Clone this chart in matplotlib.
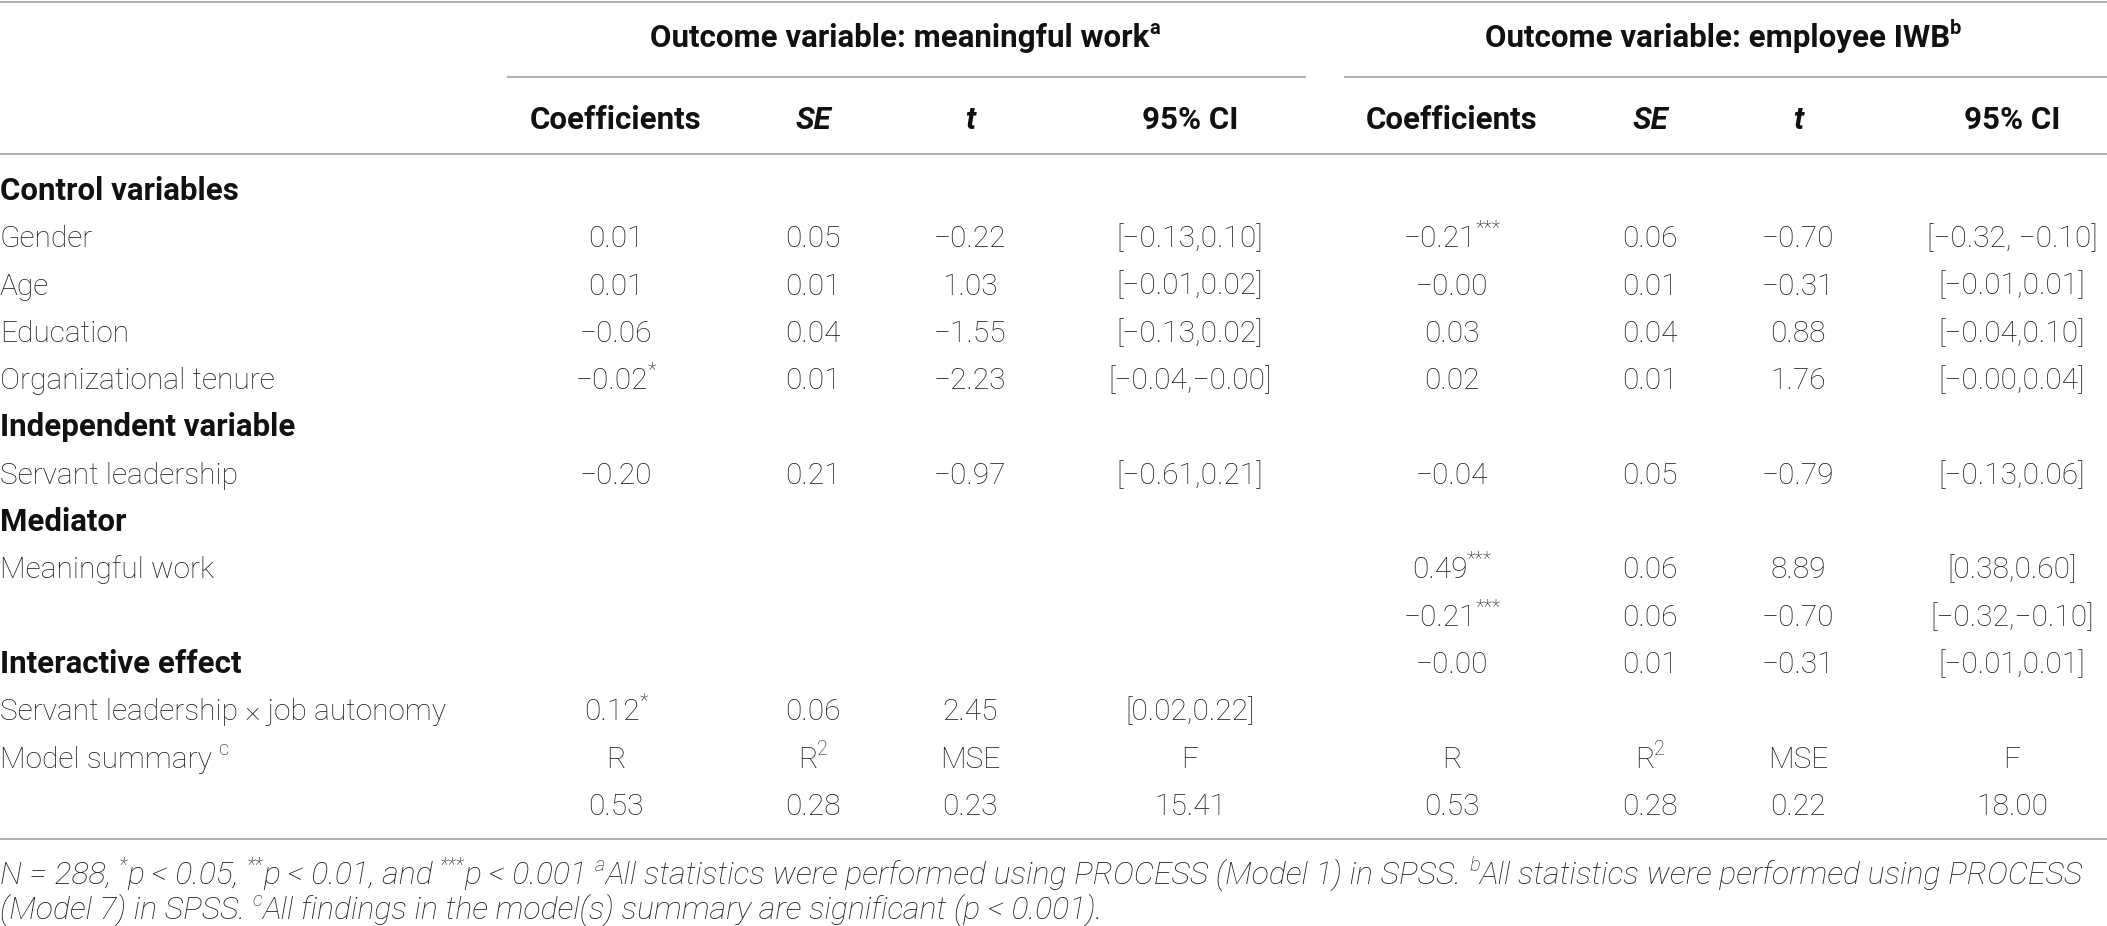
import re
import matplotlib
matplotlib.use("Agg")
import matplotlib.pyplot as plt
from matplotlib.font_manager import FontProperties

# ---------------- data ----------------
row_labels = ["Control variables", "Gender", "Age", "Education", "Organizational tenure",
              "Independent variable", "Servant leadership", "Mediator", "Meaningful work", "",
              "Interactive effect", "Servant leadership × job autonomy", "Model summary ^{c}", ""]
section_rows = ["Control variables", "Independent variable", "Mediator", "Interactive effect"]

group_titles = ["Outcome variable: meaningful work^{a}", "Outcome variable: employee IWB^{b}"]
col_headers = ["Coefficients", "SE", "t", "95% CI"]
italic_headers = ["SE", "t"]

mw_coef = ["", "0.01", "0.01", "−0.06", "−0.02^{*}", "", "−0.20", "", "", "", "", "0.12^{*}", "R", "0.53"]
mw_se = ["", "0.05", "0.01", "0.04", "0.01", "", "0.21", "", "", "", "", "0.06", "R^{2}", "0.28"]
mw_t = ["", "−0.22", "1.03", "−1.55", "−2.23", "", "−0.97", "", "", "", "", "2.45", "MSE", "0.23"]
mw_ci = ["", "[−0.13,0.10]", "[−0.01,0.02]", "[−0.13,0.02]", "[−0.04,−0.00]", "", "[−0.61,0.21]",
         "", "", "", "", "[0.02,0.22]", "F", "15.41"]

iwb_coef = ["", "−0.21^{***}", "−0.00", "0.03", "0.02", "", "−0.04", "", "0.49^{***}", "−0.21^{***}",
            "−0.00", "", "R", "0.53"]
iwb_se = ["", "0.06", "0.01", "0.04", "0.01", "", "0.05", "", "0.06", "0.06", "0.01", "", "R^{2}", "0.28"]
iwb_t = ["", "−0.70", "−0.31", "0.88", "1.76", "", "−0.79", "", "8.89", "−0.70", "−0.31", "", "MSE", "0.22"]
iwb_ci = ["", "[−0.32, −0.10]", "[−0.01,0.01]", "[−0.04,0.10]", "[−0.00,0.04]", "", "[−0.13,0.06]",
          "", "[0.38,0.60]", "[−0.32,−0.10]", "[−0.01,0.01]", "", "F", "18.00"]

footnote_lines = [
    "N = 288, ^{*}p < 0.05, ^{**}p < 0.01, and ^{***}p < 0.001 ^{a}All statistics were performed using "
    "PROCESS (Model 1) in SPSS. ^{b}All statistics were performed using PROCESS",
    "(Model 7) in SPSS. ^{c}All findings in the model(s) summary are significant (p < 0.001).",
]

# ---------------- layout ----------------
W, H = 2107, 926
fig = plt.figure(figsize=(W / 100, H / 100), dpi=100)
ax = fig.add_axes([0, 0, 1, 1])
ax.set_xlim(0, W)
ax.set_ylim(H, 0)
ax.axis("off")
renderer = fig.canvas.get_renderer()

FAM = ["Roboto", "DejaVu Sans"]
SIZE = 21.5
BOLD_SIZE = 22.5
FOOT_SIZE = 23
SUP_SIZE = 14.5
TXT = "#1c1c1c"
BOLD_C = "#111111"
LINE_C = "#a9a9a9"

def fp(weight="light", style="normal", size=SIZE):
    return FontProperties(family=FAM, weight=weight, style=style, size=size)

def parse(s):
    parts = []
    pos = 0
    for m in re.finditer(r"\^\{(.*?)\}", s):
        if m.start() > pos:
            parts.append((s[pos:m.start()], False))
        parts.append((m.group(1), True))
        pos = m.end()
    if pos < len(s):
        parts.append((s[pos:], False))
    return parts

def width(s, prop):
    t = ax.text(0, 0, s, fontproperties=prop)
    w = t.get_window_extent(renderer).width
    t.remove()
    return w

def rich(x, yc, s, ha="center", weight="light", style="normal", color=TXT, size=None):
    if not s:
        return
    segs = parse(s)
    if size is None:
        size = BOLD_SIZE if weight == "bold" else SIZE
    main = fp(weight, style, size)
    sup = fp(weight, style, SUP_SIZE)
    ws = [width(t, sup if is_sup else main) for t, is_sup in segs]
    total = sum(ws)
    x0 = x - total / 2 if ha == "center" else (x - total if ha == "right" else x)
    base = yc + 11
    for (t, is_sup), w in zip(segs, ws):
        ax.text(x0, base - (13 if is_sup else 0), t, fontproperties=sup if is_sup else main,
                va="baseline", ha="left", color=color)
        x0 += w

def hline(y, x1, x2):
    ax.plot([x1, x2], [y, y], color=LINE_C, lw=1.3, solid_capstyle="butt")

col_x = [616, 813, 970, 1190, 1452, 1650, 1798, 2012]
group_x = [905, 1723]
row_y0, row_dy = 189, 47.3

# rules
hline(1.5, 0, W)
hline(77, 507, 1306)
hline(77, 1344, W)
hline(154, 0, W)
hline(839, 0, W)

# group titles
for gx, title in zip(group_x, group_titles):
    rich(gx, 36, title, weight="bold", color=BOLD_C)

# column headers
for k, cx in enumerate(col_x):
    h = col_headers[k % 4]
    rich(cx, 118, h, weight="bold", style="italic" if h in italic_headers else "normal", color=BOLD_C)

# body
columns = [mw_coef, mw_se, mw_t, mw_ci, iwb_coef, iwb_se, iwb_t, iwb_ci]
for i, lab in enumerate(row_labels):
    y = row_y0 + i * row_dy
    if lab in section_rows:
        rich(0, y, lab, ha="left", weight="bold", color=BOLD_C)
    else:
        rich(0, y, lab, ha="left")
    for cx, col in zip(col_x, columns):
        rich(cx, y, col[i])

# footnote
for j, line in enumerate(footnote_lines):
    rich(0, 873 + j * 35, line, ha="left", style="italic", size=FOOT_SIZE)

fig.savefig("out.png", dpi=100, facecolor="white")
